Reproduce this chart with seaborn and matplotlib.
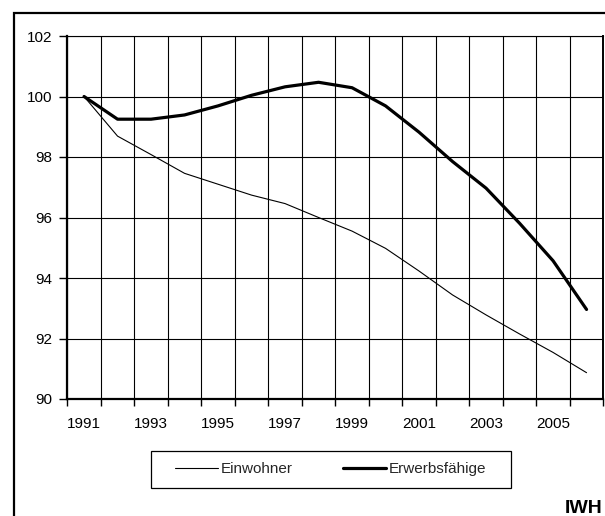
import numpy as np
import pandas as pd
import matplotlib
matplotlib.use('Agg')
import matplotlib.pyplot as plt
import seaborn as sns
from matplotlib.patches import Rectangle
from matplotlib.ticker import FixedLocator

years = list(range(1991, 2007))
einwohner = [100.0, 98.69, 98.08, 97.46, 97.1, 96.74, 96.46, 96.0,
             95.55, 94.98, 94.23, 93.44, 92.78, 92.15, 91.54, 90.87]
erwerbsfaehige = [100.0, 99.25, 99.25, 99.39, 99.69, 100.04, 100.32, 100.47,
                  100.29, 99.69, 98.82, 97.85, 96.97, 95.81, 94.57, 92.96]
label_years = [1991, 1993, 1995, 1997, 1999, 2001, 2003, 2005]
y_ticks = [90, 92, 94, 96, 98, 100, 102]
series_names = ['Einwohner', 'Erwerbsfähige']

sns.set_style('white')
plt.rcParams['font.family'] = ['Liberation Sans', 'DejaVu Sans']

df = pd.DataFrame({'Jahr': years, series_names[0]: einwohner, series_names[1]: erwerbsfaehige})

fig = plt.figure(figsize=(6.05, 5.16), dpi=100)
ax = fig.add_axes([67.3 / 605, 1 - 399 / 516, 536 / 605, 363 / 516])

sns.lineplot(data=df, x='Jahr', y=series_names[0], ax=ax, color='black',
             linewidth=0.8, label=series_names[0])
sns.lineplot(data=df, x='Jahr', y=series_names[1], ax=ax, color='black',
             linewidth=2.3, label=series_names[1])

ax.set_xlim(years[0] - 0.5, years[-1] + 0.5)
ax.set_ylim(y_ticks[0], y_ticks[-1])
ax.set_xlabel('')
ax.set_ylabel('')

# category axis: labels centred, tick marks at the boundaries
ax.xaxis.set_major_locator(FixedLocator(label_years))
ax.xaxis.set_minor_locator(FixedLocator(np.arange(years[0] - 0.5, years[-1] + 1, 1)))
ax.set_xticklabels([str(y) for y in label_years])
ax.tick_params(axis='x', which='major', length=0, pad=13, labelsize=11, colors='black')
ax.tick_params(axis='x', which='minor', length=5, width=1, direction='out', color='black', bottom=True)
ax.yaxis.set_major_locator(FixedLocator(y_ticks))
ax.tick_params(axis='y', which='major', length=6, width=1, direction='out', pad=5,
               labelsize=11, colors='black', left=True)

ax.grid(False)
ax.grid(True, which='minor', axis='x', color='black', linewidth=0.8)
ax.grid(True, which='major', axis='y', color='black', linewidth=0.8)

for side in ['left', 'bottom']:
    ax.spines[side].set_color('black')
    ax.spines[side].set_linewidth(1.6)
ax.spines['right'].set_color('black')
ax.spines['right'].set_linewidth(1.4)
ax.spines['top'].set_color('black')
ax.spines['top'].set_linewidth(0.8)

# legend with its own frame
fig.patches.append(Rectangle((150.5 / 605, 1 - 487.7 / 516), 360.2 / 605, 37 / 516,
                             transform=fig.transFigure, fill=False,
                             edgecolor='black', linewidth=0.9))
ax.legend(loc='center', bbox_to_anchor=(330.6 / 605, 1 - 469.2 / 516),
          bbox_transform=fig.transFigure, ncol=2, frameon=False, fontsize=11,
          handlelength=2.8, handletextpad=0.2, columnspacing=3.3)

# outer frame
fig.patches.append(Rectangle((14 / 605, -0.1), 1.2, 1.1 - 13 / 516,
                             transform=fig.transFigure, fill=False,
                             edgecolor='black', linewidth=1.6))

fig.text(565 / 605, 1 - 500 / 516, 'IWH', fontsize=14, fontweight='bold',
         ha='left', va='top', color='black')

fig.savefig('out.png', dpi=100)
